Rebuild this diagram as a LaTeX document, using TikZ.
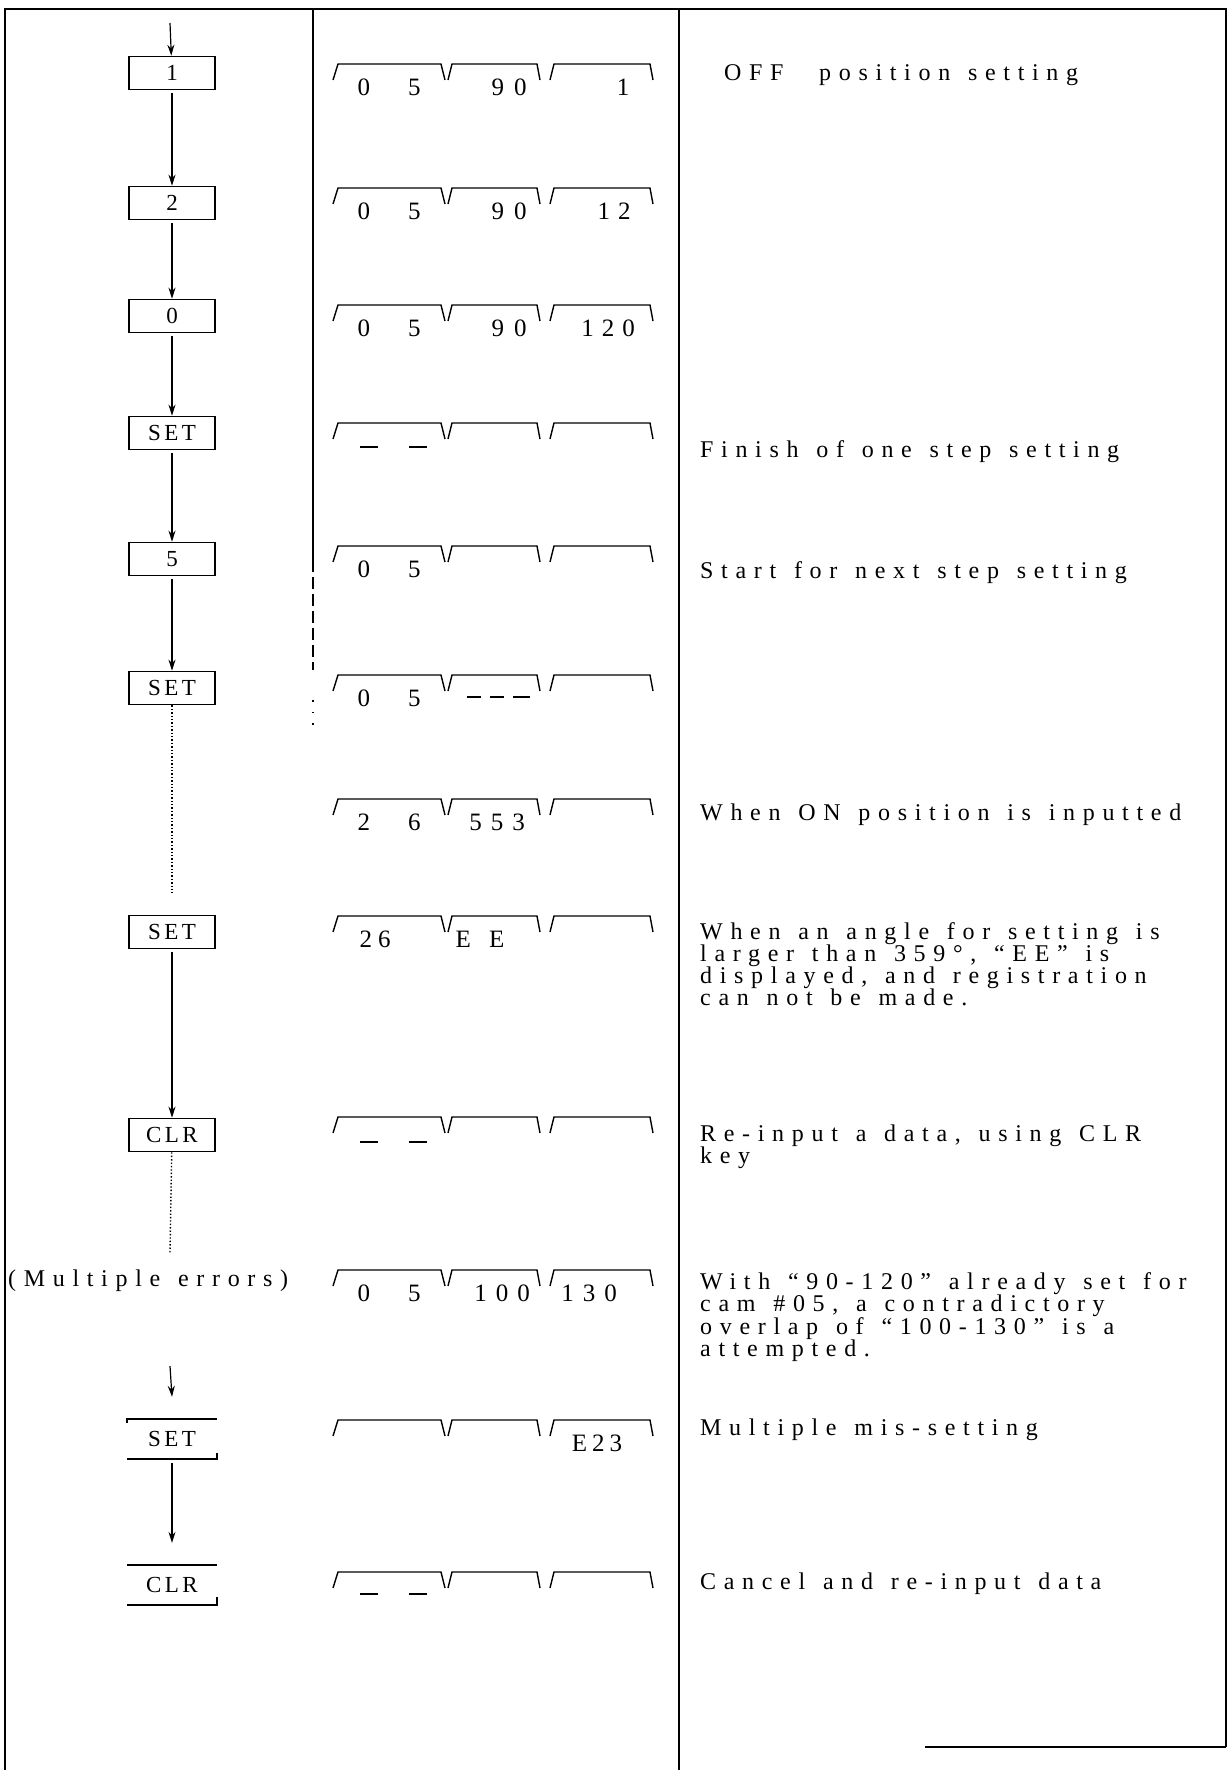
\documentclass[tikz,border=0pt]{standalone}
\usepackage{fontspec}
\setmainfont{Liberation Serif}
\newfontfamily\spacedfont{Liberation Serif}[LetterSpace=32, WordSpace=1.3]
\newfontfamily\keyfont{Liberation Serif}[LetterSpace=15]
\usetikzlibrary{arrows.meta}

\tikzset{
  key/.style={draw, line width=1.6pt, minimum width=86pt, minimum height=33pt,
    inner sep=0pt, font=\keyfont\fontsize{23}{24}\selectfont},
  openkey/.style={minimum width=90pt, minimum height=40pt,
    inner sep=0pt, font=\keyfont\fontsize{23}{24}\selectfont},
  flow/.style={line width=1.2pt, -{Stealth[length=11pt,width=7pt]}},
  digits/.style={inner sep=0pt, font=\fontsize{25}{26}\selectfont},
  note/.style={anchor=north west, align=left, inner sep=0pt,
    font=\spacedfont\fontsize{24}{22}\selectfont},
}

\begin{document}
\begin{tikzpicture}[x=1pt, y=-1pt]
	\useasboundingbox (0,0) rectangle (1229,1770);

	% table frame and column rules
	\draw[line width=2.2pt] (5,1770) -- (5,9) -- (1226,9) -- (1226,1747);
	\draw[line width=2.2pt] (925,1747) -- (1226,1747);
	\draw[line width=1.4pt] (679,9) -- (679,1770);
	\draw[line width=1.4pt] (313,9) -- (313,560);
	\draw[line width=1.2pt, dash pattern=on 12pt off 5pt] (313,560) -- (313,670);
	\draw[line width=1.6pt, dash pattern=on 1.6pt off 10pt] (313,700) -- (313,730);

	% key column
	\coordinate (start) at (170,23);
	\node[key] (k1) at (172,73) {1};
	\node[key] (k2) at (172,203) {2};
	\node[key] (k0) at (172,316) {0};
	\node[key] (kset1) at (172,433) {SET};
	\node[key] (k5) at (172,559) {5};
	\node[key] (kset2) at (172,688) {SET};
	\node[key] (kset3) at (172,932) {SET};
	\node[key] (kclr1) at (172,1135) {CLR};
	\node[anchor=west, inner sep=0pt, font=\spacedfont\fontsize{24}{24}\selectfont] (errors) at (8,1281) {(Multiple errors)};
	\node[openkey] (kset4) at (172,1439) {SET};
	\node[openkey] (kclr2) at (172,1585) {CLR};
	\coordinate (dotend) at (170,1253);
	\coordinate (again) at (170,1366);

	% open keys, only top and bottom edge
	\draw[line width=1.6pt] ([yshift=-4pt]kset4.north west) -- (kset4.north west) -- (kset4.north east)
		(kset4.south west) -- (kset4.south east) -- ++(0,-6);
	\draw[line width=1.6pt] (kclr2.north west) -- (kclr2.north east)
		(kclr2.south west) -- (kclr2.south east) -- ++(0,-8);

	\draw[flow] (start) -- (k1);
	\draw[flow, shorten <=3pt] (k1) -- (k2);
	\draw[flow, shorten <=3pt] (k2) -- (k0);
	\draw[flow, shorten <=3pt] (k0) -- (kset1);
	\draw[flow, shorten <=3pt] (kset1) -- (k5);
	\draw[flow, shorten <=3pt] (k5) -- (kset2);
	\draw[line width=1.4pt, dotted] (kset2) -- ([yshift=22pt]kset3.north);
	\draw[flow, shorten <=3pt] (kset3) -- (kclr1);
	\draw[line width=1.4pt, dotted] (kclr1) -- (dotend);
	\draw[flow] (again) -- ([yshift=22pt]kset4.north);
	\draw[flow, shorten <=4pt] (kset4) -- ([yshift=22pt]kclr2.north);

	% display windows
	\foreach \t in {64,188,305,423,546,675,799,916,1117,1270,1420,1572} {
		\draw[line width=1.4pt] (333,\t+16) -- (338,\t) -- (441,\t) -- (445,\t+16)
			(448,\t+16) -- (452,\t) -- (537,\t) -- (540,\t+16)
			(550,\t+16) -- (554,\t) -- (650,\t) -- (653,\t+16);
	}

	% display contents
	\node[digits] (d1a) at (389,87) {0\hspace{38pt}5};
	\node[digits] (d1b) at (509,87) {9\hspace{10pt}0};
	\node[digits] (d1c) at (623,87) {1};
	\node[digits] (d2a) at (389,211) {0\hspace{38pt}5};
	\node[digits] (d2b) at (509,211) {9\hspace{10pt}0};
	\node[digits] (d2c) at (614,211) {1\hspace{8pt}2};
	\node[digits] (d3a) at (389,328) {0\hspace{38pt}5};
	\node[digits] (d3b) at (509,328) {9\hspace{10pt}0};
	\node[digits] (d3c) at (608,328) {1\hspace{8pt}2\hspace{8pt}0};
	\draw[line width=2.2pt] (360,447) -- (378,447) (409,447) -- (427,447);
	\node[digits] (d5a) at (389,569) {0\hspace{38pt}5};
	\node[digits] (d6a) at (389,698) {0\hspace{38pt}5};
	\draw[line width=2.2pt] (467,697) -- (481,697) (490,697) -- (504,697) (513,697) -- (530,697);
	\node[digits] (d7a) at (389,822) {2\hspace{38pt}6};
	\node[digits] (d7b) at (497,822) {5\hspace{9pt}5\hspace{9pt}3};
	\node[digits] (d8a) at (375,939) {2\hspace{6pt}6};
	\node[digits] (d8b) at (480,939) {E\hspace{18pt}E};
	\draw[line width=2.8pt] (360,1142) -- (378,1142);
	\draw[line width=2.2pt] (409,1142) -- (427,1142);
	\node[digits] (d10a) at (389,1293) {0\hspace{38pt}5};
	\node[digits] (d10b) at (502,1293) {1\hspace{9pt}0\hspace{9pt}0};
	\node[digits] (d10c) at (589,1293) {1\hspace{9pt}3\hspace{9pt}0};
	\node[digits] (d11c) at (597,1443) {E\hspace{5pt}2\hspace{5pt}3};
	\draw[line width=2.2pt] (360,1594) -- (378,1594) (409,1594) -- (427,1594);

	% remarks
	\node[note] (n1) at (724,64) {OFF\ \ position setting};
	\node[note] (n2) at (700,440) {Finish of one step setting};
	\node[note] (n3) at (700,561) {Start for next step setting};
	\node[note] (n4) at (700,804) {When ON position is inputted};
	\node[note] (n5) at (700,922) {When an angle for setting is\\larger than 359°, “EE” is\\displayed, and registration\\can not be made.};
	\node[note] (n6) at (700,1125) {Re-input a data, using CLR\\key};
	\node[note] (n7) at (700,1272) {With “90-120” already set for\\cam \#05, a contradictory\\overlap of “100-130” is a\\attempted.};
	\node[note] (n8) at (700,1419) {Multiple mis-setting};
	\node[note] (n9) at (700,1573) {Cancel and re-input data};
\end{tikzpicture}
\end{document}
